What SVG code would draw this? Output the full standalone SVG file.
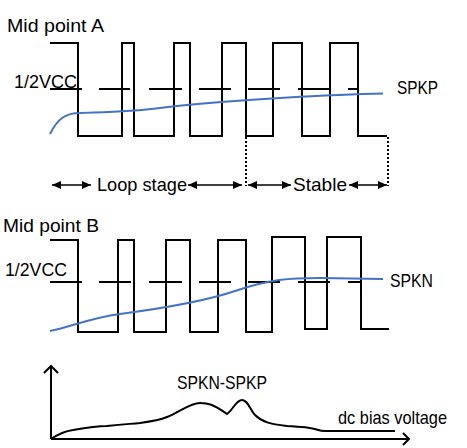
<svg xmlns="http://www.w3.org/2000/svg" width="467" height="448" viewBox="0 0 467 448">
<style>
.k{fill:none;stroke:#000;stroke-width:2;stroke-linejoin:miter}
.b{fill:none;stroke:#4472C4;stroke-width:2}
.d{fill:none;stroke:#000;stroke-width:2;stroke-dasharray:2,2}
.t{font-family:"Liberation Sans",Arial,sans-serif;font-size:19px;fill:#000}
.a{fill:none;stroke:#000;stroke-width:1.6;marker-start:url(#ah);marker-end:url(#ah)}
</style>
<defs>
<marker id="ah" markerUnits="userSpaceOnUse" markerWidth="9" markerHeight="8" refX="9" refY="4" orient="auto-start-reverse" viewBox="0 0 9 8">
<path d="M0,0 L9,4 L0,8 z" fill="#000"/>
</marker>
</defs>
<rect width="467" height="448" fill="#fff"/>
<g id="panelA">
<text class="t" x="7" y="32" textLength="97" lengthAdjust="spacingAndGlyphs">Mid point A</text>
<path class="k" d="M50,43 H78 V136 H122 V43 H134 V136 H174 V43 H190 V136 H222 V43 H246 V136 H273 V43 H302 V136 H330 V43 H358 V136 H387"/>
<path class="k" d="M50,89 H82 M99,89 H130 M149,89 H182 M199,89 H231 M248,89 H280 M298,89 H329 M348,89 H358"/>
<text class="t" x="14" y="88" textLength="63" lengthAdjust="spacingAndGlyphs">1/2VCC</text>
<path class="b" d="M50,134 C58,118 66,113 80,113 C110,112 130,112 160,108 S230,101 280,98 S350,94 383,93.5"/>
<text class="t" x="397" y="94" textLength="41" lengthAdjust="spacingAndGlyphs">SPKP</text>
</g>
<g id="stages">
<path class="d" d="M246,137 V186 M388,137 V186"/>
<text class="t" x="97" y="191" textLength="90" lengthAdjust="spacingAndGlyphs">Loop stage</text>
<text class="t" x="293" y="191" textLength="54" lengthAdjust="spacingAndGlyphs">Stable</text>
</g>
<g id="connectors">
<line class="a" x1="52" y1="185" x2="91" y2="185"/>
<line class="a" x1="188" y1="185" x2="242" y2="185"/>
<line class="a" x1="248" y1="185" x2="291" y2="185"/>
<line class="a" x1="349" y1="185" x2="387" y2="185"/>
</g>
<g id="panelB">
<text class="t" x="3" y="232" textLength="96" lengthAdjust="spacingAndGlyphs">Mid point B</text>
<path class="k" d="M50,240 H78 V332 H118 V240 H134 V332 H166 V240 H190 V332 H218 V240 H246 V332 H272 V237 H305 V329 H327 V237 H361 V329 H389"/>
<path class="k" d="M50,282 H82 M99,282 H131 M149,282 H182 M199,282 H231 M248,282 H280 M298,282 H330 M348,282 H360"/>
<text class="t" x="5" y="276" textLength="62" lengthAdjust="spacingAndGlyphs">1/2VCC</text>
<path class="b" d="M50,331 C70,327 90,318 120,314 S200,303 235,291 S290,278 320,278 L383,279"/>
<text class="t" x="390" y="287" textLength="43" lengthAdjust="spacingAndGlyphs">SPKN</text>
</g>
<g id="chart">
<path class="k" d="M51,439 V366 M44,373 L51,366 L58,373"/>
<path class="k" d="M51,439 H409 M403,433 L409,439 L403,445"/>
<path class="k" d="M51,439 C60,433 66,431 73,430 C90,427 100,426 107,426 C125,424 130,424 140,423 C155,421 160,420 167,417 C180,412 190,403 200,403 C208,403 213,404 227,414 C233,410 236,400 242,400 C248,400 250,410 255,415 C262,422 270,424 287,426 C300,427 305,427 310,428 C318,429 318,431 325,431 H395"/>
<text class="t" x="177" y="389" textLength="90" lengthAdjust="spacingAndGlyphs">SPKN-SPKP</text>
<text class="t" x="338" y="424" textLength="109" lengthAdjust="spacingAndGlyphs">dc bias voltage</text>
</g>
</svg>
